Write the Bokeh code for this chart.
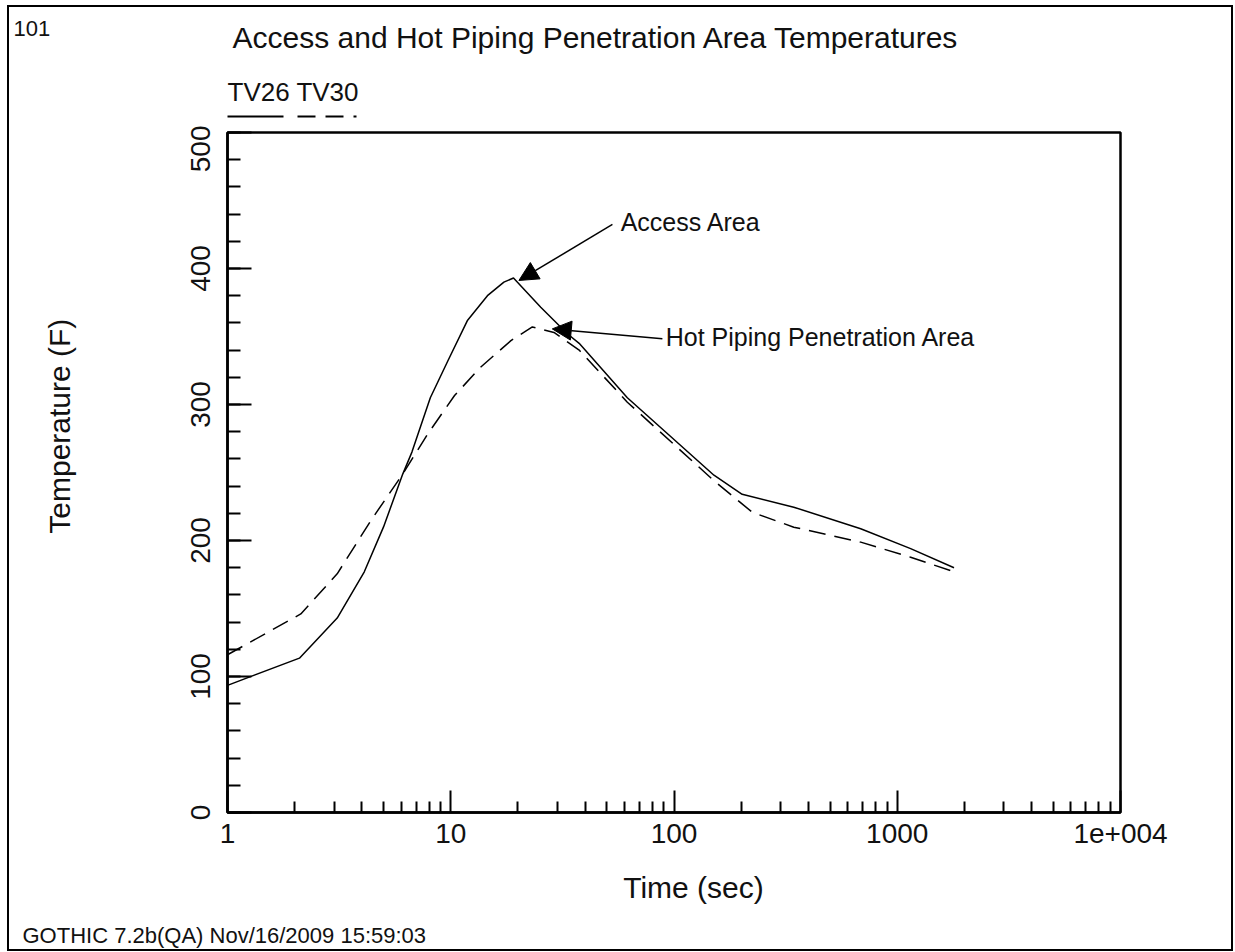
import math
from bokeh.plotting import figure
from bokeh.layouts import column, row
from bokeh.models import FixedTicker, Label, Arrow, NormalHead, Range1d
from bokeh.embed import file_html
from bokeh.resources import INLINE

# ---------------- data ----------------
time_tv26 = [1, 2.1, 3.1, 4.1, 5.0, 6.1, 6.7, 8.1, 9.7, 11.9, 14.6, 17.3, 19.1,
             25.3, 33.3, 37.6, 61.8, 151, 202, 344, 686, 1148, 1796]
temp_tv26 = [93.5, 113.5, 143, 177, 210, 249, 265, 305, 332, 362, 380, 390, 393,
             371.5, 352, 345, 305, 248, 234, 224.5, 208.6, 194, 180]

time_tv30 = [1, 2.13, 3.1, 4.4, 6.1, 7.9, 10.4, 13.6, 18.6, 23.2, 29, 37.6,
             61.8, 151, 224, 344, 686, 1148, 1796]
temp_tv30 = [116, 146, 175.5, 215, 249, 278.5, 306.6, 327.4, 347, 357, 353, 340,
             301.7, 244, 220.8, 209.8, 198.8, 187.7, 177]

x_major = [1, 10, 100, 1000, 10000]
x_tick_labels = ["1", "10", "100", "1000", "1e+004"]
x_minor = [m * d for d in (1, 10, 100, 1000) for m in range(2, 10)]
y_major = [0, 100, 200, 300, 400, 500]
y_minor = list(range(0, 501, 20))

series_names = ["TV26", "TV30"]
title_text = "Access and Hot Piping Penetration Area Temperatures"
x_title = "Time (sec)"
y_title = "Temperature (F)"
page_id = "101"
footer_text = "GOTHIC 7.2b(QA) Nov/16/2009 15:59:03"
note_access = "Access Area"
note_hot = "Hot Piping Penetration Area"

FONT = "Liberation Sans"
INK = "#111111"

# ---------------- layout geometry (page pixels) ----------------
X0, Y0 = 9, 7             # content origin inside the outer border
W = 1222                  # content width
HEAD_BOTTOM = 125         # header strip: Y0 .. 125
MID_BOTTOM = 852          # middle row: 125 .. 852
FOOT_BOTTOM = 949         # footer strip: 852 .. 949
STRIP_RIGHT = 89          # left strip: X0 .. 89
FRAME_L, FRAME_R, FRAME_T, FRAME_B = 227, 1120, 132, 812


def blank(width, height):
    f = figure(width=width, height=height, x_range=Range1d(0, width),
               y_range=Range1d(0, height), x_axis_location=None,
               y_axis_location=None, output_backend="svg",
               toolbar_location=None, min_border=0)
    f.outline_line_color = None
    f.xgrid.visible = False
    f.ygrid.visible = False
    f.background_fill_color = "white"
    f.border_fill_color = "white"
    return f


def fsize(size):
    return float(size.replace("px", ""))


def put(fig, text, x, y, size, **kw):
    # baseline correction: the rendered baseline sits ~0.4 em below the anchor
    shift = 0.4 * fsize(size)
    angle = kw.get("angle", 0.0)
    x = x - shift * math.sin(angle) * (1 if fig.x_scale.__class__.__name__ == "LinearScale" else 0)
    if angle == 0.0:
        y = y + shift if fig is not p_main else y
    fig.add_layout(Label(x=x, y=y, text=text, text_font=FONT,
                         text_font_size=size, text_color=INK,
                         text_baseline="alphabetic", **kw))


p_main = None

# header strip: page id, title, legend
head = blank(W, HEAD_BOTTOM - Y0)
hx = lambda px: px - X0
hy = lambda py: HEAD_BOTTOM - py
put(head, page_id, hx(13), hy(36.5), "22px")
put(head, title_text, hx(232), hy(48.5), "30px")
put(head, " ".join(series_names), hx(227), hy(101.5), "26px")
head.add_layout(Arrow(x_start=hx(227), y_start=hy(116), x_end=hx(283), y_end=hy(116),
                      start=None, end=None, line_color="black", line_width=2))
head.add_layout(Arrow(x_start=hx(297), y_start=hy(116), x_end=hx(356), y_end=hy(116),
                      start=None, end=None, line_color="black", line_width=2,
                      line_dash="18 10"))

# left strip: y-axis title
strip = blank(STRIP_RIGHT - X0, MID_BOTTOM - HEAD_BOTTOM)
put(strip, y_title, 71 - X0, MID_BOTTOM - 439, "30px",
    text_align="center", angle=math.pi / 2)

# footer strip: x-axis title, stamp
foot = blank(W, FOOT_BOTTOM - MID_BOTTOM)
put(foot, x_title, 693 - X0, FOOT_BOTTOM - 899, "30px", text_align="center")
put(foot, footer_text, 22 - X0, FOOT_BOTTOM - 944, "22px")

# ---------------- main plot ----------------
p = figure(width=W - (STRIP_RIGHT - X0), height=MID_BOTTOM - HEAD_BOTTOM,
           x_axis_type="log", x_range=Range1d(1, 10000), y_range=Range1d(0, 500),
           output_backend="svg", toolbar_location=None,
           min_border_left=FRAME_L - STRIP_RIGHT,
           min_border_right=X0 + W - FRAME_R,
           min_border_top=FRAME_T - HEAD_BOTTOM,
           min_border_bottom=MID_BOTTOM - FRAME_B)
p.background_fill_color = "white"
p.border_fill_color = "white"
p.outline_line_color = "black"
p.outline_line_width = 2.5
p.xgrid.visible = False
p.ygrid.visible = False

xa = p.xaxis[0]
xa.ticker = FixedTicker(ticks=x_major, minor_ticks=x_minor)
xa.major_label_overrides = {t: s for t, s in zip(x_major, x_tick_labels)}

ya = p.yaxis[0]
ya.ticker = FixedTicker(ticks=y_major, minor_ticks=y_minor)
ya.major_label_orientation = "vertical"

for ax, tin, min_in, sto in ((xa, 22, 11, 11), (ya, 24, 13, 18)):
    ax.axis_line_width = 2.5
    ax.axis_line_color = "black"
    ax.major_tick_in = tin
    ax.major_tick_out = 0
    ax.minor_tick_in = min_in
    ax.minor_tick_out = 0
    ax.major_tick_line_width = 2
    ax.minor_tick_line_width = 2
    ax.major_tick_line_color = "black"
    ax.minor_tick_line_color = "black"
    ax.major_label_text_font = FONT
    ax.major_label_text_font_size = "28px"
    ax.major_label_text_color = INK
    ax.major_label_standoff = sto

p.line(time_tv26, temp_tv26, line_color="black", line_width=1.5)
p.line(time_tv30, temp_tv30, line_color="black", line_width=1.5, line_dash="17 9")

# callouts (data units; baseline raised by ~0.4 em = ~10 px = ~7.4 degF)
for text, x, y in ((note_access, 57.7, 426.7 + 7.4), (note_hot, 91.8, 342.1 + 7.4)):
    p.add_layout(Label(x=x, y=y, text=text, text_font=FONT, text_font_size="25px",
                       text_color=INK, text_baseline="alphabetic"))
p.add_layout(Arrow(x_start=53.0, y_start=432.4, x_end=20.2, y_end=391.2,
                   line_color="black", line_width=1.5,
                   end=NormalHead(size=19, fill_color="black", line_color="black")))
p.add_layout(Arrow(x_start=88.7, y_start=348.3, x_end=28.5, y_end=355.6,
                   line_color="black", line_width=1.5,
                   end=NormalHead(size=19, fill_color="black", line_color="black")))

page = column(head, row(strip, p, spacing=0), foot, spacing=0,
              styles={"border": "2px solid black", "box-sizing": "content-box",
                      "margin": "5px 0 0 7px", "background": "white"})

open("out.html", "w").write(file_html(page, INLINE))
